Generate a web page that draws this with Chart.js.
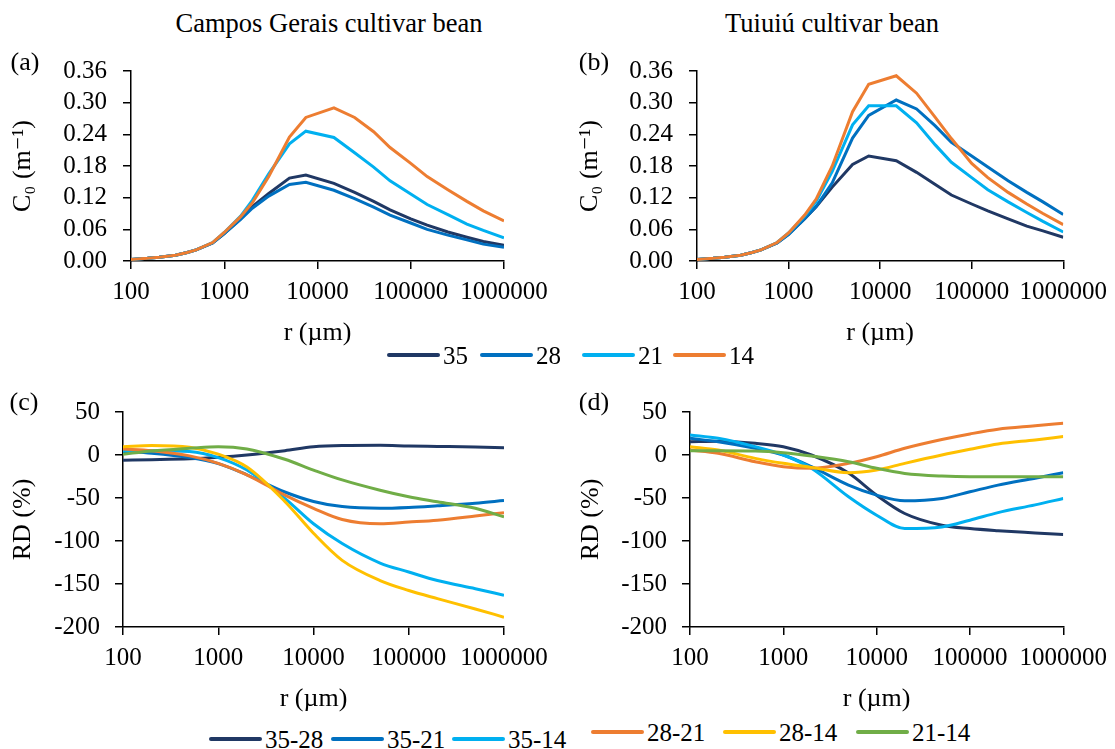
<!DOCTYPE html>
<html>
<head>
<meta charset="utf-8">
<script src="https://cdn.jsdelivr.net/npm/chart.js@4.4.1/dist/chart.umd.min.js"></script>
<style>
  body { margin: 0; background: #fff; }
  #wrap { position: relative; width: 1115px; height: 749px; font-family: 'Liberation Serif', Tinos, 'Times New Roman', Times, 'DejaVu Serif', serif; color: #000; overflow: hidden; }
  canvas { position: absolute; }
  .txt { position: absolute; font-size: 26px; line-height: 1; white-space: nowrap; transform: translate(-50%, -50%); }
  .ltxt { position: absolute; font-size: 25px; line-height: 1; white-space: nowrap; transform: translateY(-50%); }
  .key { position: absolute; height: 4px; border-radius: 2px; transform: translateY(-50%); }
</style>
</head>
<body>
<div id="wrap">
  <canvas id="chartA" width="557" height="310" style="left:0;top:40px"></canvas>
  <canvas id="chartB" width="555" height="310" style="left:560px;top:40px"></canvas>
  <canvas id="chartC" width="557" height="336" style="left:0;top:380px"></canvas>
  <canvas id="chartD" width="555" height="336" style="left:560px;top:380px"></canvas>

  <div class="txt" style="left:329px;top:23px;font-size:26.5px">Campos Gerais cultivar bean</div>
  <div class="txt" style="left:832px;top:23px;font-size:26.5px">Tuiuiú cultivar bean</div>
  <div class="txt" style="left:25px;top:62px">(a)</div>
  <div class="txt" style="left:594px;top:62px">(b)</div>
  <div class="txt" style="left:24px;top:402px">(c)</div>
  <div class="txt" style="left:594px;top:402px">(d)</div>
  <div id="legendTop"></div>
  <div id="legendBottom"></div>
</div>
<script>
// x values (r, µm)
const rTop = [100, 150, 200, 300, 400, 500, 750, 1000, 1500, 2000, 3000, 5000, 7500, 15000, 25000, 40000, 60000, 100000, 150000, 250000, 400000, 600000, 1000000];
const rBot = [100, 200, 500, 1000, 2000, 5000, 10000, 20000, 50000, 100000, 200000, 500000, 1000000];

// tick labels
const xTickVals = [100, 1000, 10000, 100000, 1000000];
const c0TickVals = [0, 0.06, 0.12, 0.18, 0.24, 0.30, 0.36];
const rdTickVals = [-200, -150, -100, -50, 0, 50];

// (a) Campos Gerais, C0 (m-1)
const c0A35 = [0.003, 0.005, 0.007, 0.011, 0.016, 0.021, 0.034, 0.052, 0.080, 0.103, 0.128, 0.157, 0.163, 0.147, 0.130, 0.113, 0.097, 0.080, 0.068, 0.055, 0.045, 0.037, 0.030];
const c0A28 = [0.003, 0.005, 0.007, 0.011, 0.016, 0.021, 0.034, 0.052, 0.079, 0.100, 0.123, 0.145, 0.149, 0.134, 0.118, 0.102, 0.087, 0.072, 0.060, 0.049, 0.040, 0.032, 0.026];
const c0A21 = [0.003, 0.005, 0.007, 0.011, 0.016, 0.021, 0.035, 0.054, 0.085, 0.115, 0.165, 0.222, 0.246, 0.234, 0.205, 0.178, 0.152, 0.127, 0.107, 0.088, 0.070, 0.058, 0.044];
const c0A14 = [0.003, 0.005, 0.007, 0.011, 0.016, 0.021, 0.035, 0.054, 0.084, 0.110, 0.160, 0.235, 0.272, 0.290, 0.272, 0.245, 0.215, 0.185, 0.160, 0.135, 0.113, 0.095, 0.076];

// (b) Tuiuiu, C0 (m-1)
const c0B35 = [0.003, 0.005, 0.007, 0.011, 0.016, 0.021, 0.034, 0.051, 0.080, 0.103, 0.140, 0.183, 0.199, 0.190, 0.168, 0.145, 0.125, 0.108, 0.095, 0.080, 0.066, 0.057, 0.045];
const c0B28 = [0.003, 0.005, 0.007, 0.011, 0.016, 0.021, 0.034, 0.050, 0.080, 0.103, 0.148, 0.233, 0.276, 0.305, 0.288, 0.256, 0.225, 0.199, 0.178, 0.152, 0.130, 0.112, 0.088];
const c0B21 = [0.003, 0.005, 0.007, 0.011, 0.016, 0.021, 0.035, 0.053, 0.085, 0.113, 0.170, 0.258, 0.294, 0.294, 0.262, 0.220, 0.187, 0.158, 0.135, 0.112, 0.092, 0.075, 0.055];
const c0B14 = [0.003, 0.005, 0.007, 0.011, 0.016, 0.021, 0.035, 0.053, 0.087, 0.117, 0.180, 0.283, 0.335, 0.351, 0.318, 0.272, 0.232, 0.185, 0.158, 0.130, 0.108, 0.090, 0.069];

// (c) Campos Gerais, RD (%)
const rdC3528 = [-6, -5.5, -4.5, -2.7, 0, 5, 9.5, 11, 11.3, 10.5, 10, 9.3, 8.5];
const rdC3521 = [4, 2, -3, -10, -23, -43, -54, -60, -62, -61, -59, -56, -53];
const rdC3514 = [5, 5, 4, -3, -17.5, -50.5, -80, -103, -125.6, -136, -146, -155.5, -163];
const rdC2821 = [7, 5, -1, -9.7, -23, -46.7, -62, -75, -80, -78, -75.8, -71, -67];
const rdC2814 = [9.7, 11, 9, 1, -14, -54, -91, -122.5, -146, -157.5, -167, -179, -188.6];
const rdC2114 = [1, 4.7, 7.8, 9.7, 7, -5, -17.5, -29, -41, -48.6, -54.4, -62, -72];

// (d) Tuiuiu, RD (%)
const rdD3528 = [15.5, 16, 13.6, 9.7, 0, -21, -46.7, -68, -81.6, -85.5, -88, -90.6, -92.5];
const rdD3521 = [19.4, 15.5, 7.8, 0, -13.6, -35, -46.7, -53.3, -50.5, -42.8, -35, -27, -20.6];
const rdD3514 = [23.3, 19.4, 9.7, 0, -15.5, -48.6, -70, -85.5, -83.6, -75.8, -67, -58, -50.5];
const rdD2821 = [5.8, 2, -7.8, -13.6, -15.5, -9.7, -2, 7.8, 18, 24.5, 30, 34, 37];
const rdD2814 = [9.7, 5.8, -3.9, -9.7, -14.4, -20.6, -17.5, -9.7, 0, 6.6, 12.8, 17.5, 21.4];
const rdD2114 = [5, 5, 4.7, 2.7, -1.2, -7.8, -15.5, -21.4, -24.5, -25.3, -25.3, -25.3, -25.3];

const topNames = ['35', '28', '21', '14'];
const botNames = ['35-28', '35-21', '35-14', '28-21', '28-14', '21-14'];
const topColors = ['#203864', '#0070C0', '#00B0F0', '#ED7D31'];
const botColors = ['#203864', '#0070C0', '#00B0F0', '#ED7D31', '#FFC000', '#70AD47'];

const FONT = "'Liberation Serif', Tinos, 'Times New Roman', Times, 'DejaVu Serif', serif";

function toPoints(xs, ys) {
    return xs.map((x, i) => ({ x: x, y: ys[i] }));
}

function makeChart(id, xs, seriesList, names, colors, yTicks, yTitle, geo, smooth) {
    const datasets = seriesList.map((ys, i) => ({
        label: names[i],
        data: toPoints(xs, ys),
        borderColor: colors[i],
        borderWidth: 3,
        pointRadius: 0,
        fill: false,
        tension: 0,
        cubicInterpolationMode: smooth ? 'monotone' : 'default',
        order: seriesList.length - i  // later series on top, like the original
    }));

    return new Chart(document.getElementById(id), {
        type: 'line',
        data: { datasets: datasets },
        options: {
            responsive: false,
            animation: false,
            devicePixelRatio: 1,
            layout: { padding: { left: 0, top: geo.top, right: geo.right, bottom: 0 } },
            plugins: { legend: { display: false }, tooltip: { enabled: false } },
            scales: {
                x: {
                    type: 'logarithmic',
                    min: xTickVals[0],
                    max: xTickVals[xTickVals.length - 1],
                    afterBuildTicks: (s) => { s.ticks = xTickVals.map(v => ({ value: v })); },
                    afterFit: (s) => { s.height = geo.xh; },
                    ticks: {
                        autoSkip: false, maxRotation: 0, padding: 8,
                        color: '#000', font: { family: FONT, size: 25 },
                        callback: (v) => String(v)
                    },
                    grid: { drawOnChartArea: false, drawTicks: true, tickLength: 8, color: '#000', lineWidth: 1.5 },
                    border: { color: '#000', width: 1.5 },
                    title: {
                        display: true, text: 'r (µm)', color: '#000',
                        font: { family: FONT, size: 26 }, padding: { top: 0, bottom: 1 }
                    }
                },
                y: {
                    min: yTicks[0],
                    max: yTicks[yTicks.length - 1],
                    afterBuildTicks: (s) => { s.ticks = yTicks.map(v => ({ value: v })); },
                    afterFit: (s) => { s.width = geo.yw; },
                    ticks: {
                        autoSkip: false,
                        padding: geo.tp, color: '#000', font: { family: FONT, size: 25 },
                        callback: (v) => geo.dec ? Number(v).toFixed(geo.dec) : String(v)
                    },
                    grid: { drawOnChartArea: false, drawTicks: true, tickLength: 8, color: '#000', lineWidth: 1.5 },
                    border: { color: '#000', width: 1.5 },
                    title: {
                        display: true, text: yTitle, color: '#000',
                        font: { family: FONT, size: 26 }, padding: { top: geo.tt, bottom: 0 }
                    }
                }
            }
        }
    });
}

makeChart('chartA', rTop, [c0A35, c0A28, c0A21, c0A14], topNames, topColors, c0TickVals, 'C₀ (m⁻¹)',
    { top: 29, right: 53, xh: 89, yw: 131, tp: 16, tt: 8, dec: 2 }, false);
makeChart('chartB', rTop, [c0B35, c0B28, c0B21, c0B14], topNames, topColors, c0TickVals, 'C₀ (m⁻¹)',
    { top: 29, right: 50, xh: 89, yw: 137, tp: 16, tt: 15, dec: 2 }, false);
makeChart('chartC', rBot, [rdC3528, rdC3521, rdC3514, rdC2821, rdC2814, rdC2114], botNames, botColors, rdTickVals, 'RD (%)',
    { top: 32, right: 53, xh: 89, yw: 123, tp: 15, tt: 8, dec: 0 }, true);
makeChart('chartD', rBot, [rdD3528, rdD3521, rdD3514, rdD2821, rdD2814, rdD2114], botNames, botColors, rdTickVals, 'RD (%)',
    { top: 32, right: 50, xh: 89, yw: 130, tp: 15, tt: 16, dec: 0 }, true);

// HTML legends placed between the panels
function addLegend(holderId, names, colors, items) {
    const holder = document.getElementById(holderId);
    items.forEach((it, i) => {
        const key = document.createElement('div');
        key.className = 'key';
        key.style.left = it.x + 'px';
        key.style.top = it.y + 'px';
        key.style.width = '53px';
        key.style.background = colors[i];
        holder.appendChild(key);

        const label = document.createElement('div');
        label.className = 'ltxt';
        label.style.left = (it.x + 56) + 'px';
        label.style.top = it.y + 'px';
        label.textContent = names[i];
        holder.appendChild(label);
    });
}

addLegend('legendTop', topNames, topColors,
    [{ x: 387, y: 355 }, { x: 480, y: 355 }, { x: 582, y: 355 }, { x: 673, y: 355 }]);
addLegend('legendBottom', botNames, botColors,
    [{ x: 209, y: 739 }, { x: 331, y: 739 }, { x: 452, y: 739 },
     { x: 591, y: 732 }, { x: 723, y: 732 }, { x: 856, y: 732 }]);
</script>
</body>
</html>
